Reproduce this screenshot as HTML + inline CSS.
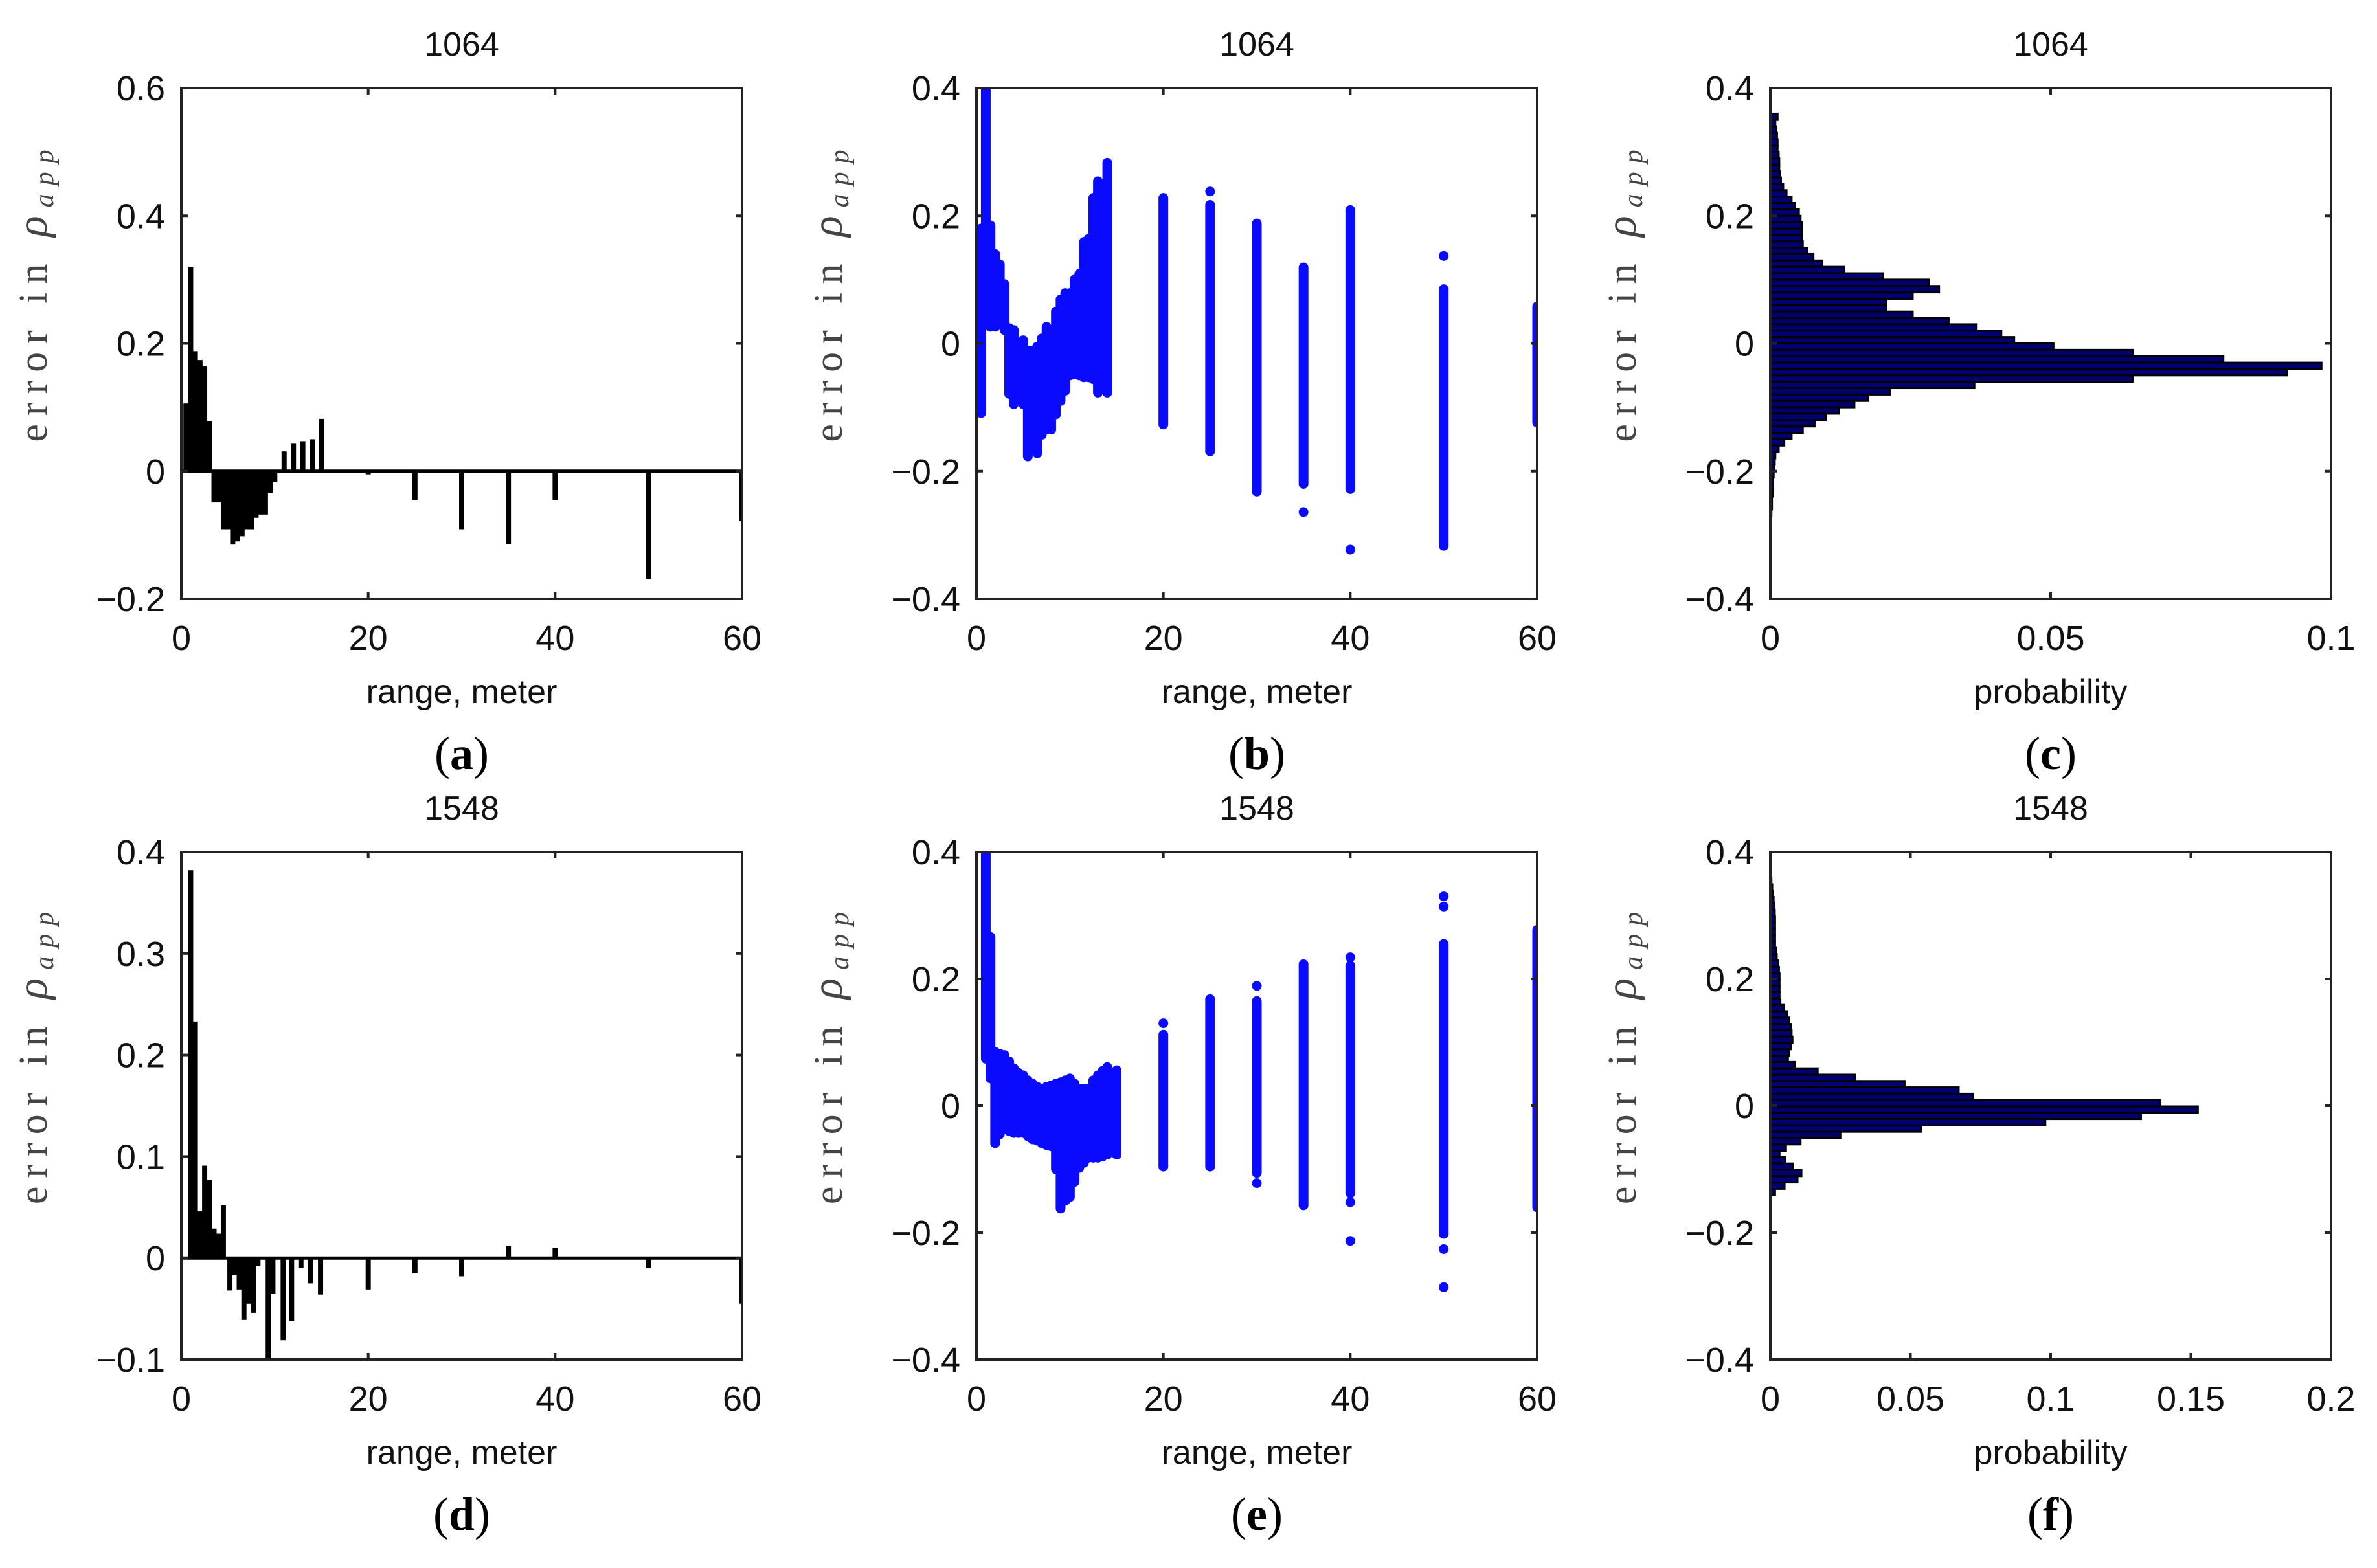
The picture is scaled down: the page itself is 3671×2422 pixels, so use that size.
<!DOCTYPE html>
<html><head><meta charset="utf-8"><style>
html,body{margin:0;padding:0;background:#fff;}
svg{display:block;}
.sans{font-family:"Liberation Sans",sans-serif;}
.serif{font-family:"Liberation Serif",serif;}
</style></head><body>
<svg id="fig" xmlns="http://www.w3.org/2000/svg" width="3671" height="2422" viewBox="0 0 3671 2422">
<rect x="0" y="0" width="3671" height="2422" fill="#fff"/>
</svg>
<script>
// ---- Panel (a) 1064 bars ----
const aX = [0.5,1,1.5,2,2.5,3,3.5,4,4.5,5,5.5,6,6.5,7,7.5,8,8.5,9,9.5,10,11,12,13,14,15,20,25,30,35,40,50,60];
const aY = [0.106,0.32,0.188,0.174,0.164,0.078,-0.049,-0.049,-0.091,-0.091,-0.115,-0.11,-0.102,-0.091,-0.091,-0.073,-0.068,-0.068,-0.034,-0.017,0.031,0.043,0.047,0.05,0.082,-0.005,-0.045,-0.091,-0.114,-0.045,-0.169,-0.078];
// ---- Panel (d) 1548 bars ----
const dX = [1,1.5,2,2.5,3,3.5,4,4.5,5.2,5.7,6.2,6.7,7.2,7.7,8.2,9.3,9.8,10.9,11.8,12.8,13.8,14.9,20,25,30,35,40,50,60];
const dY = [0.382,0.233,0.046,0.091,0.077,0.029,0.024,0.052,-0.032,-0.017,-0.031,-0.061,-0.045,-0.054,-0.008,-0.1,-0.035,-0.081,-0.062,-0.01,-0.025,-0.036,-0.031,-0.015,-0.018,0.012,0.01,-0.01,-0.045];
// ---- Panel (b) scatter columns: range, min, max ----
const bX   = [0.5,1,1.5,2,2.5,3,3.5,4,5,5.5,6,6.5,7,7.5,8,8.5,9,9.5,10,10.5,11,11.5,12,12.5,13,14,20,25,30,35,40,50,60];
const bMin = [-0.109,0.03,0.026,0.026,0.042,0.021,-0.079,-0.095,-0.095,-0.177,-0.122,-0.172,-0.143,-0.135,-0.135,-0.111,-0.09,-0.074,-0.05,-0.048,-0.05,-0.053,-0.053,-0.056,-0.077,-0.077,-0.127,-0.169,-0.232,-0.22,-0.228,-0.317,-0.124];
const bMax = [0.18,0.4,0.185,0.14,0.124,0.093,0.024,0.021,0.005,-0.011,-0.011,-0.005,0.008,0.026,0.021,0.05,0.069,0.079,0.079,0.1,0.109,0.159,0.164,0.228,0.254,0.283,0.228,0.217,0.188,0.119,0.209,0.085,0.058];
const bOutX = [25,35,40,50];
const bOutY = [0.238,-0.264,-0.323,0.137];
// ---- Panel (e) scatter columns ----
const eX   = [1,1.5,2,2.5,3,3.5,4,4.5,5,5.5,6,6.5,7,7.5,8,8.5,9,9.5,10,10.5,11,11.5,12,12.5,13,13.5,14,15,20,25,30,35,40,50,60];
const eMin = [0.074,0.043,-0.059,-0.045,-0.037,-0.04,-0.043,-0.043,-0.043,-0.048,-0.053,-0.055,-0.059,-0.062,-0.064,-0.1,-0.162,-0.15,-0.144,-0.12,-0.098,-0.09,-0.082,-0.082,-0.082,-0.08,-0.077,-0.077,-0.096,-0.096,-0.106,-0.157,-0.138,-0.202,-0.16];
const eMax = [0.4,0.266,0.085,0.082,0.08,0.07,0.059,0.052,0.048,0.04,0.035,0.03,0.027,0.03,0.032,0.035,0.037,0.04,0.043,0.035,0.027,0.027,0.027,0.04,0.048,0.055,0.061,0.056,0.112,0.168,0.165,0.223,0.221,0.255,0.277];
const eOutX = [20,30,30,40,40,40,50,50,50,50];
const eOutY = [0.13,0.189,-0.122,0.234,-0.152,-0.213,0.33,0.314,-0.226,-0.286];
// ---- Panel (c) histogram 1064: bin centers start 0.355, step -0.01 ----
const cStart = 0.355, binW = 0.01;
const cP = [0.0013,0.0009,0.0011,0.0012,0.0013,0.0013,0.0015,0.0016,0.0016,0.0017,0.0019,0.0023,0.0029,0.0038,0.0044,0.0051,0.0054,0.0056,0.0056,0.0056,0.0058,0.0066,0.0077,0.0093,0.0132,0.0201,0.0283,0.0301,0.0254,0.0207,0.0207,0.0254,0.0318,0.0368,0.0412,0.0435,0.0505,0.0647,0.0808,0.0983,0.0921,0.0646,0.0364,0.0213,0.0175,0.015,0.0122,0.0099,0.0079,0.0058,0.0038,0.0025,0.0015,0.0009,0.0008,0.0007,0.0006,0.0005,0.0005,0.0004,0.0003,0.0003,0.0002,0.0001];
// ---- Panel (f) histogram 1548 ----
const fStart = 0.354;
const fP = [0.0004,0.0007,0.0009,0.0012,0.0015,0.0016,0.0017,0.0017,0.0017,0.0017,0.0017,0.002,0.0023,0.0028,0.0031,0.0033,0.0033,0.0033,0.0033,0.0036,0.0049,0.006,0.0068,0.0073,0.0076,0.0079,0.0073,0.0068,0.0063,0.0087,0.0169,0.0302,0.0479,0.0672,0.0722,0.1391,0.1525,0.1322,0.0981,0.0537,0.025,0.0108,0.0056,0.0033,0.0052,0.008,0.0111,0.0097,0.0051,0.0017];
// ---- tick labels ----
const rangeTicks = [0,20,40,60];
const yTicksA = [-0.2,0,0.2,0.4,0.6];
const yTicksD = [-0.1,0,0.1,0.2,0.3,0.4];
const yTicksFull = [-0.4,-0.2,0,0.2,0.4];
const cTicks = [0,0.05,0.1];
const fTicks = [0,0.05,0.1,0.15,0.2];

const NS = "http://www.w3.org/2000/svg";
const svg = document.getElementById('fig');
function mk(tag, attrs, parent){
  const e = document.createElementNS(NS, tag);
  for (const k in attrs) e.setAttribute(k, attrs[k]);
  (parent||svg).appendChild(e);
  return e;
}
function fmt(v){ if (Math.abs(v)<1e-9) return "0"; let s = String(+v.toFixed(3)); s = s.replace(/^-/,"\u2212"); return s; }

const cols = [[280,1146],[1508,2374],[2734,3600]];
const rows = [[136,925],[1316,2100]];

function makeAxes(id, col, row, xmin, xmax, ymin, ymax, xt, yt, title, xlabel, letter){
  const L=cols[col][0], R=cols[col][1], T=rows[row][0], B=rows[row][1];
  const g = mk('g', {});
  
  
  const sx = v => L + (v-xmin)/(xmax-xmin)*(R-L);
  const sy = v => B - (v-ymin)/(ymax-ymin)*(B-T);
  const cp = mk('clipPath', {id:'clip-'+id}, g);
  mk('rect', {x:L, y:T, width:R-L, height:B-T}, cp);
  const plot = mk('g', {'clip-path':'url(#clip-'+id+')'}, g);
  
  
  const ax = {L,R,T,B,sx,sy,g,plot,
    finish(){
      const fr = mk('rect', {x:L, y:T, width:R-L, height:B-T, fill:'none', stroke:'#222', 'stroke-width':4}, g);
      
      
      xt.forEach(v=>{
        const x = sx(v);
        mk('line',{x1:x,x2:x,y1:B,y2:B-10,stroke:'#222','stroke-width':4},g);
        mk('line',{x1:x,x2:x,y1:T,y2:T+10,stroke:'#222','stroke-width':4},g);
        const t = mk('text',{x:x,y:B+79,'text-anchor':'middle','font-size':54,fill:'#111','class':'sans'},g);
        
        
        t.textContent = fmt(v);
      });
      yt.forEach(v=>{
        const y = sy(v);
        mk('line',{x1:L,x2:L+10,y1:y,y2:y,stroke:'#222','stroke-width':4},g);
        mk('line',{x1:R,x2:R-10,y1:y,y2:y,stroke:'#222','stroke-width':4},g);
        const t = mk('text',{x:L-25,y:y+19,'text-anchor':'end','font-size':54,fill:'#111','class':'sans'},g);
        
        
        t.textContent = fmt(v);
      });
      const tt = mk('text',{x:(L+R)/2,y:T-50,'text-anchor':'middle','font-size':52,fill:'#111','class':'sans'},g);
      
      
      tt.textContent = title;
      const xl = mk('text',{x:(L+R)/2,y:B+161,'text-anchor':'middle','font-size':52,fill:'#111','class':'sans'},g);
      
      
      xl.textContent = xlabel;
      const lt = mk('text',{x:(L+R)/2,y:B+263,'text-anchor':'middle','font-size':72,fill:'#000','class':'serif'},g);
      
      
      lt.innerHTML = '(<tspan font-weight="bold">'+letter+'</tspan>)';
      const cy = (T+B)/2 - 80, cx = L-208;
      const yl = mk('text',{x:cx,y:cy,'text-anchor':'middle','font-size':62,fill:'#444','class':'serif','letter-spacing':13,transform:'rotate(-90 '+cx+' '+cy+')'},g);
      
      
      yl.innerHTML = 'error in <tspan font-style="italic" font-size="68">\u03C1</tspan><tspan font-style="italic" font-size="42" dy="10">app</tspan>';
    }};
  return ax;
}

function barPanel(id,col,row,ymin,ymax,yt,X,Y,title,letter){
  const ax = makeAxes(id,col,row,0,60,ymin,ymax,rangeTicks,yt,title,'range, meter',letter);
  const w = 0.55;
  for (let i=0;i<X.length;i++){
    const x0 = ax.sx(X[i]-w/2), x1 = ax.sx(X[i]+w/2);
    const y0 = ax.sy(0), y1 = ax.sy(Y[i]);
    const r = mk('rect',{x:x0,y:Math.min(y0,y1),width:x1-x0,height:Math.max(1,Math.abs(y1-y0)),fill:'#000'},ax.plot);
    
    
  }
  const zl = mk('line',{x1:ax.L,x2:ax.R,y1:ax.sy(0),y2:ax.sy(0),stroke:'#000','stroke-width':5},ax.plot);
  
  
  ax.finish();
}
function scatterPanel(id,col,row,X,MN,MX,OX,OY,title,letter){
  const ax = makeAxes(id,col,row,0,60,-0.4,0.4,rangeTicks,yTicksFull,title,'range, meter',letter);
  for (let i=0;i<X.length;i++){
    const l = mk('line',{x1:ax.sx(X[i]),x2:ax.sx(X[i]),y1:ax.sy(MN[i]),y2:ax.sy(MX[i]),stroke:'#0a0aff','stroke-width':15,'stroke-linecap':'round'},ax.plot);
    
    
  }
  for (let i=0;i<OX.length;i++){
    const c = mk('circle',{cx:ax.sx(OX[i]),cy:ax.sy(OY[i]),r:7.5,fill:'#0a0aff'},ax.plot);
    
    
  }
  ax.finish();
}
function histPanel(id,col,row,xmax,xt,start,P,title,letter){
  const ax = makeAxes(id,col,row,0,xmax,-0.4,0.4,xt,yTicksFull,title,'probability',letter);
  for (let i=0;i<P.length;i++){
    const c = start - i*binW;
    const y0 = ax.sy(c+binW/2), y1 = ax.sy(c-binW/2);
    const r = mk('rect',{x:ax.sx(0),y:y0,width:Math.max(1,ax.sx(P[i])-ax.sx(0)),height:y1-y0,fill:'#000070',stroke:'#000','stroke-width':3},ax.plot);
    
    
  }
  ax.finish();
}

barPanel('a',0,0,-0.2,0.6,yTicksA,aX,aY,'1064','a');
scatterPanel('b',1,0,bX,bMin,bMax,bOutX,bOutY,'1064','b');
histPanel('c',2,0,0.1,cTicks,cStart,cP,'1064','c');
barPanel('d',0,1,-0.1,0.4,yTicksD,dX,dY,'1548','d');
scatterPanel('e',1,1,eX,eMin,eMax,eOutX,eOutY,'1548','e');
histPanel('f',2,1,0.2,fTicks,fStart,fP,'1548','f');
</script>
</body></html>
